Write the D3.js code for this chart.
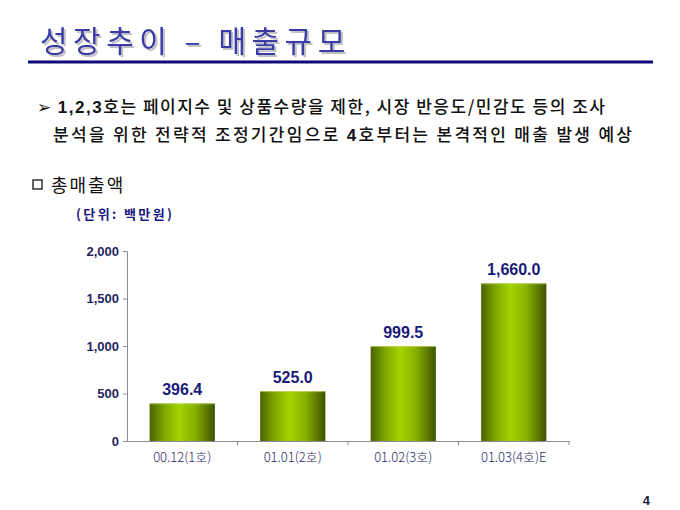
<!DOCTYPE html>
<html>
<head>
<meta charset="utf-8">
<style>
    body { margin: 0; background: #fff; }
    svg { display: block; }
    .title { font-family: 'Noto Sans CJK KR', sans-serif; font-size: 30px; font-weight: 400; fill: #3a3aa8; letter-spacing: 5.5px; }
    .bullet { font-family: 'Noto Sans CJK KR', sans-serif; font-size: 17px; font-weight: 500; fill: #111; }
    .bullet .num { font-family: 'Liberation Sans', Arial, sans-serif; font-weight: 700; }
    .sub { font-family: 'Noto Sans CJK KR', sans-serif; font-size: 18px; fill: #111; letter-spacing: 2px; }
    .unit { font-family: 'Noto Sans CJK KR', sans-serif; font-size: 13px; font-weight: 700; fill: #1a1a80; letter-spacing: 2.4px; }
    .y.axis .tick text { font-family: 'Liberation Sans Narrow', 'Arial Narrow', sans-serif; font-size: 13px; font-weight: 700; fill: #26265e; }
    .x.axis .tick text { font-family: 'Noto Sans CJK KR', sans-serif; font-size: 13px; font-weight: 300; fill: #2a2a66; }
    .axis .domain, .axis .tick line { stroke: #8a8a9a; }
    .value { font-family: 'Liberation Sans', Arial, sans-serif; font-size: 16px; font-weight: 700; fill: #1a1a7a; }
    .page { font-family: 'Liberation Sans', Arial, sans-serif; font-size: 13px; font-weight: 700; fill: #1a1a40; }
</style>
</head>
<body>
<svg width="680" height="510"></svg>

<script src="https://d3js.org/d3.v7.min.js"></script>
<script>
    // chart data
    let categories = ["00.12(1호)", "01.01(2호)", "01.02(3호)", "01.03(4호)E"]
    let sales = [396.4, 525.0, 999.5, 1660.0]
    let yTicks = [0, 500, 1000, 1500, 2000]

    let svg = d3.select("svg")
    let defs = svg.append("defs")

    // soft grey shadow under the title
    let shadow = defs.append("filter").attr("id", "shadow")
        .attr("x", "-5%").attr("y", "-20%").attr("width", "110%").attr("height", "150%")
    shadow.append("feDropShadow")
        .attr("dx", 2).attr("dy", 2).attr("stdDeviation", 0.6)
        .attr("flood-color", "#b0b0b8").attr("flood-opacity", 0.8)

    // title + underline
    svg.append("text").attr("class", "title")
        .attr("x", 40).attr("y", 52)
        .attr("filter", "url(#shadow)")
        .text("성장추이 – 매출규모")
    svg.append("line")
        .attr("x1", 28).attr("x2", 653).attr("y1", 62).attr("y2", 62)
        .attr("stroke", "#0c0c78").attr("stroke-width", 3)

    // bullet text
    let b1 = svg.append("text").attr("class", "bullet").attr("x", 37).attr("y", 113)
        .attr("textLength", 568).attr("lengthAdjust", "spacing")
    b1.append("tspan").text("➢ ")
    b1.append("tspan").attr("class", "num").text("1,2,3")
    b1.append("tspan").text("호는 페이지수 및 상품수량을 제한, 시장 반응도/민감도 등의 조사")
    let b2 = svg.append("text").attr("class", "bullet").attr("x", 53).attr("y", 141)
        .attr("textLength", 579).attr("lengthAdjust", "spacing")
    b2.append("tspan").text("분석을 위한 전략적 조정기간임으로 ")
    b2.append("tspan").attr("class", "num").text("4")
    b2.append("tspan").text("호부터는 본격적인 매출 발생 예상")

    svg.append("rect").attr("x", 33).attr("y", 180).attr("width", 9).attr("height", 9)
        .attr("fill", "none").attr("stroke", "#111").attr("stroke-width", 1.3)
    svg.append("text").attr("class", "sub").attr("x", 51).attr("y", 192).text("총매출액")
    svg.append("text").attr("class", "unit").attr("x", 76).attr("y", 219).text("(단위: 백만원)")

    // bar gradient
    let grad = defs.append("linearGradient")
        .attr("id", "barGrad").attr("x1", "0%").attr("x2", "100%")
    grad.append("stop").attr("offset", "0%").attr("stop-color", "#4a6200")
    grad.append("stop").attr("offset", "22%").attr("stop-color", "#7ea600")
    grad.append("stop").attr("offset", "45%").attr("stop-color", "#a2d400")
    grad.append("stop").attr("offset", "70%").attr("stop-color", "#86b000")
    grad.append("stop").attr("offset", "100%").attr("stop-color", "#3e5200")

    let x = d3.scaleBand()
        .domain(categories)
        .range([127, 569])
        .paddingInner(0.41)
        .paddingOuter(0.205)

    let y = d3.scaleLinear()
        .domain([0, 2000])
        .range([441, 251])

    let yAxis = svg.append("g")
        .attr("class", "y axis")
        .attr("transform", "translate(127,0)")
        .call(d3.axisLeft(y).tickValues(yTicks).tickSize(4).tickPadding(4).tickFormat(d3.format(",")))

    // x axis with ticks at the band edges
    let xAxis = svg.append("g")
        .attr("class", "x axis")
        .attr("transform", "translate(0,441)")
        .call(d3.axisBottom(x).tickSize(0).tickPadding(12))
    xAxis.selectAll(".edge")
        .data(categories.slice(1).concat(["end"]))
        .join("line")
        .attr("class", "edge")
        .attr("x1", (d, i) => 127 + (i + 1) * x.step())
        .attr("x2", (d, i) => 127 + (i + 1) * x.step())
        .attr("y1", 0).attr("y2", 4)
        .attr("stroke", "#8a8a9a")

    svg.append("g")
        .selectAll("rect")
        .data(sales)
        .join("rect")
        .attr("x", (d, i) => x(categories[i]))
        .attr("y", d => y(d))
        .attr("width", x.bandwidth())
        .attr("height", d => y(0) - y(d))
        .attr("fill", "url(#barGrad)")

    // light top edge of each bar
    svg.append("g")
        .selectAll("line")
        .data(sales)
        .join("line")
        .attr("x1", (d, i) => x(categories[i]))
        .attr("x2", (d, i) => x(categories[i]) + x.bandwidth())
        .attr("y1", d => y(d) + 0.5)
        .attr("y2", d => y(d) + 0.5)
        .attr("stroke", "#c8e070")
        .attr("stroke-opacity", 0.7)

    svg.append("g")
        .selectAll("text")
        .data(sales)
        .join("text")
        .attr("class", "value")
        .attr("x", (d, i) => x(categories[i]) + x.bandwidth() / 2)
        .attr("y", d => y(d) - 8)
        .attr("text-anchor", "middle")
        .text(d => d3.format(",.1f")(d))

    svg.append("text").attr("class", "page").attr("x", 650).attr("y", 505)
        .attr("text-anchor", "end").text("4")
</script>
</body>
</html>
